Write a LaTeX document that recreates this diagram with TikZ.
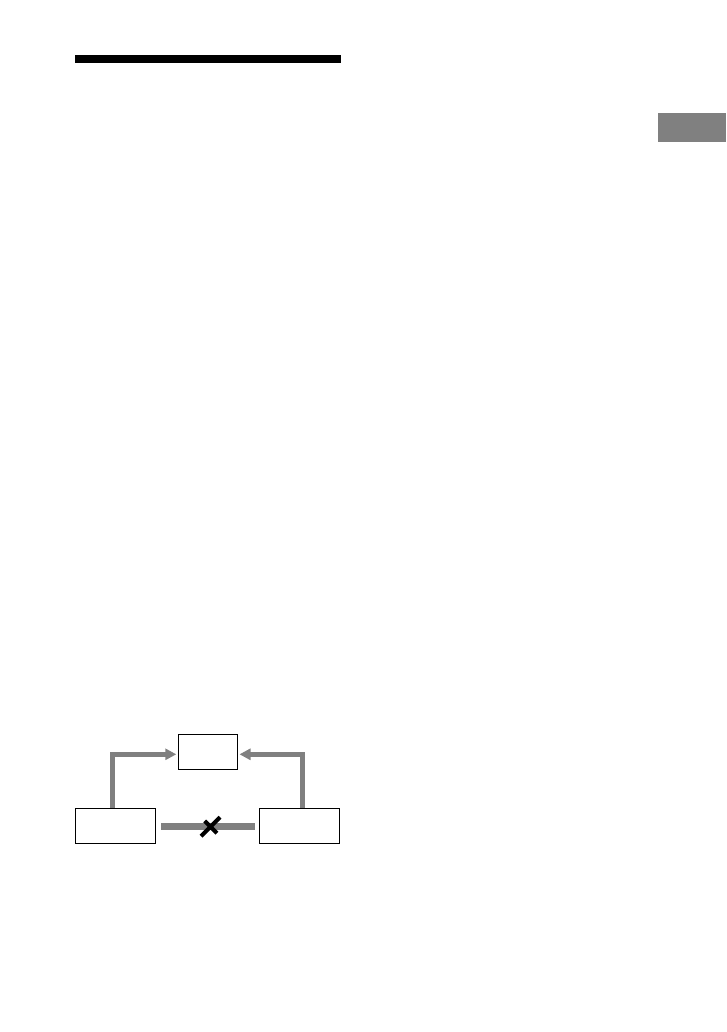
\documentclass[tikz,border=0pt]{standalone}
\usepackage{tikz}
\usetikzlibrary{shapes,arrows.meta}

\tikzset{
  unit/.style={draw,line width=1pt,minimum width=80pt,minimum height=35pt,inner sep=0pt},
  link/.style={draw=gray,line width=4.7pt},
  tip/.style={-{Triangle[length=11pt,width=11pt]}},
}

\begin{document}
\begin{tikzpicture}[x=1pt,y=-1pt]
		\useasboundingbox (0,0) rectangle (726,1032);
		\fill (75,55) rectangle (341,63);
		\fill[gray] (658,113) rectangle (726,142);
		\node[unit,minimum width=59pt] (top) at (207.8,751.8) {};
		\node[unit] (left) at (115.5,825.8) {};
		\node[unit] (right) at (299.3,825.8) {};
		\draw[link,tip] ([xshift=-3pt]left.north) |- ([xshift=-1.5pt,yshift=-2.5pt]top.west);
		\draw[link,tip] ([xshift=3pt]right.north) |- ([xshift=1.7pt,yshift=-2.5pt]top.east);
		\draw[draw=gray,line width=6.7pt,shorten <=5.3pt,shorten >=4.3pt] ([yshift=-0.9pt]left.east) -- ([yshift=-0.9pt]right.west)
			node[pos=0.53,cross out,draw=black,line width=4pt,minimum size=15pt,inner sep=0pt] (nolink) {};
	\end{tikzpicture}
\end{document}
